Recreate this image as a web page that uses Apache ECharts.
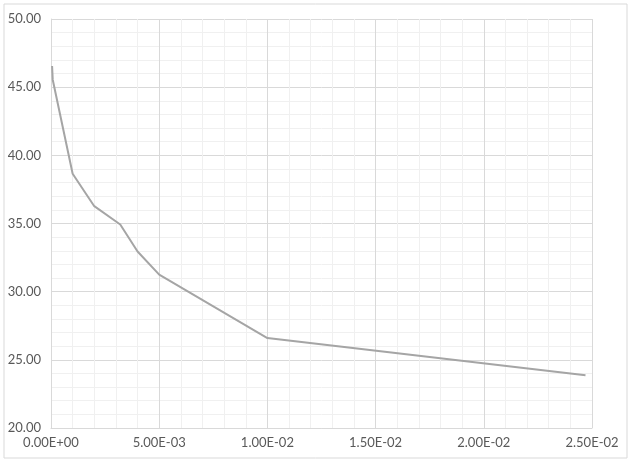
<!DOCTYPE html>
<html>
<head>
<meta charset="utf-8">
<script src="https://cdn.jsdelivr.net/npm/echarts@6/dist/echarts.min.js"></script>
<style>
  html, body { margin: 0; padding: 0; background: #fff; }
  #chart { width: 635px; height: 465px; }
</style>
</head>
<body>
<div id="chart"></div>
<script>
// values
const xValues = [0.00005, 0.00008, 0.001, 0.002, 0.0032, 0.004, 0.005, 0.01, 0.0247];
const yValues = [46.55, 45.55, 38.65, 36.27, 34.93, 32.95, 31.25, 26.6, 23.87];

// Excel style scientific label, e.g. 5.00E-03
function sciLabel(v) {
  if (v === 0) return '0.00E+00';
  const [m, e] = v.toExponential(2).split('e');
  const exp = parseInt(e, 10);
  const sign = exp < 0 ? '-' : '+';
  return m + 'E' + sign + String(Math.abs(exp)).padStart(2, '0');
}

const chart = echarts.init(document.getElementById('chart'), null, { renderer: 'canvas' });

const labelStyle = {
  color: '#595959',
  fontFamily: 'Lato',
  fontSize: 13
};

chart.setOption({
  animation: false,
  graphic: [
    {
      type: 'rect',
      shape: { x: 4, y: 4, width: 623, height: 454 },
      style: { fill: 'none', stroke: '#d9d9d9', lineWidth: 1 },
      z: -1
    }
  ],
  grid: { left: 51, right: 43, top: 19, bottom: 37 },
  xAxis: {
    type: 'value',
    min: 0,
    max: 0.025,
    interval: 0.005,
    axisLine: { show: true, lineStyle: { color: '#d9d9d9' } },
    axisTick: { show: false },
    axisLabel: Object.assign({ margin: 8, formatter: sciLabel }, labelStyle),
    splitLine: { show: true, lineStyle: { color: '#d9d9d9' } },
    minorTick: { show: false, splitNumber: 5 },
    minorSplitLine: { show: true, lineStyle: { color: '#f0f0f0' } }
  },
  yAxis: {
    type: 'value',
    min: 20,
    max: 50,
    interval: 5,
    axisLine: { show: true, lineStyle: { color: '#d9d9d9' } },
    axisTick: { show: false },
    axisLabel: Object.assign({ margin: 10, formatter: v => v.toFixed(2) }, labelStyle),
    splitLine: { show: true, lineStyle: { color: '#d9d9d9' } },
    minorTick: { show: false, splitNumber: 5 },
    minorSplitLine: { show: true, lineStyle: { color: '#f0f0f0' } }
  },
  series: [
    {
      type: 'line',
      data: xValues.map((x, i) => [x, yValues[i]]),
      showSymbol: false,
      lineStyle: { color: '#a5a5a5', width: 2 },
      itemStyle: { color: '#a5a5a5' }
    }
  ]
});
</script>
</body>
</html>
